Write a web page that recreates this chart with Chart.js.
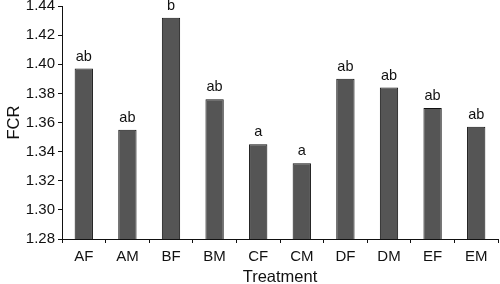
<!DOCTYPE html>
<html>
<head>
<meta charset="utf-8">
<script src="https://cdn.jsdelivr.net/npm/chart.js@4"></script>
<style>
  html, body { margin: 0; padding: 0; background: #fff; }
  #wrap { width: 500px; height: 284px; position: relative; }
</style>
</head>
<body>
<div id="wrap"><canvas id="fcrChart"></canvas></div>
<script>
const treatments = ["AF", "AM", "BF", "BM", "CF", "CM", "DF", "DM", "EF", "EM"];
const fcrValues = [1.397, 1.355, 1.432, 1.376, 1.345, 1.332, 1.390, 1.384, 1.370, 1.357];
const groupLetters = ["ab", "ab", "b", "ab", "a", "a", "ab", "ab", "ab", "ab"];

const FONT = "'Liberation Sans', Arial, sans-serif";

// letters above each bar
const letterPlugin = {
  id: "letters",
  afterDatasetsDraw: (chart) => {
    const ctx = chart.ctx;
    const meta = chart.getDatasetMeta(0);
    ctx.save();
    ctx.font = "14.5px " + FONT;
    ctx.fillStyle = "#111";
    ctx.textAlign = "center";
    ctx.textBaseline = "alphabetic";
    meta.data.forEach((bar, i) => {
      ctx.fillText(groupLetters[i], bar.x, bar.y - 8);
    });
    ctx.restore();
  }
};

new Chart(document.getElementById("fcrChart").getContext("2d"), {
  type: "bar",
  data: {
    labels: treatments,
    datasets: [{
      data: fcrValues,
      backgroundColor: "#555555",
      borderColor: "#111111",
      borderWidth: 1,
      barPercentage: 1,
      categoryPercentage: 0.42
    }]
  },
  options: {
    responsive: true,
    maintainAspectRatio: false,
    animation: false,
    layout: { padding: { top: 6, right: 2, left: 0, bottom: 0 } },
    plugins: {
      legend: { display: false },
      tooltip: { enabled: false }
    },
    scales: {
      x: {
        afterFit: (s) => { s.height = 45; },
        grid: { drawOnChartArea: false, tickLength: 4, tickColor: "#111", offset: true },
        border: { color: "#111", width: 1 },
        ticks: { color: "#111", padding: 5, font: { family: FONT, size: 15 } },
        title: {
          display: true,
          text: "Treatment",
          color: "#111",
          padding: { top: 2, bottom: -3 },
          font: { family: FONT, size: 16.5 }
        }
      },
      y: {
        min: 1.28,
        max: 1.44,
        afterFit: (s) => { s.width = 62; s.paddingTop = 0; },
        grid: { drawOnChartArea: false, tickLength: 4, tickColor: "#111" },
        border: { color: "#111", width: 1 },
        ticks: {
          stepSize: 0.02,
          color: "#111",
          padding: 3,
          font: { family: FONT, size: 15 },
          callback: (v) => v.toFixed(2)
        },
        title: {
          display: true,
          text: "FCR",
          color: "#111",
          padding: { top: 5, bottom: 2 },
          font: { family: FONT, size: 16.5 }
        }
      }
    }
  },
  plugins: [letterPlugin]
});
</script>
</body>
</html>
